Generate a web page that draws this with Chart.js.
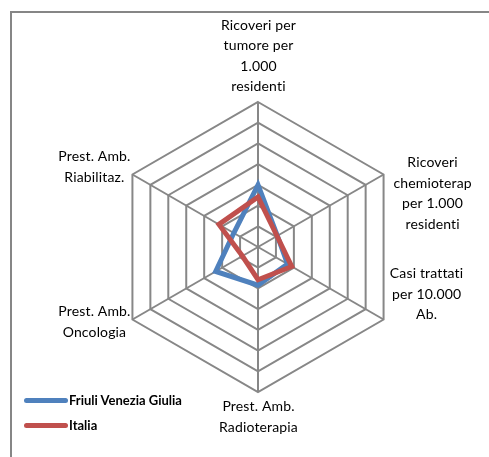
<!DOCTYPE html>
<html>
<head>
<meta charset="utf-8">
<script src="https://cdn.jsdelivr.net/npm/chart.js@4/dist/chart.umd.min.js"></script>
<style>
  html, body { margin: 0; padding: 0; background: #fff; }
  #wrap { position: relative; width: 489px; height: 457px; overflow: hidden; font-family: Lato, "Noto Sans", sans-serif; }
  #frame { position: absolute; left: 10px; top: 11px; width: 600px; height: 600px; border: 2px solid #868686; }
  canvas { position: absolute; left: 0; top: 0; }
  .leg { position: absolute; left: 24px; font-size: 13px; font-weight: bold; color: #000; line-height: 16px; }
  .leg i { display: inline-block; width: 44px; height: 5px; border-radius: 2.5px; vertical-align: middle; margin-right: 1px; position: relative; top: -1px; }
</style>
</head>
<body>
<div id="wrap">
  <div id="frame"></div>
  <canvas id="radar" width="489" height="457"></canvas>
  <div class="leg" style="top:392px;"><i style="background:#4f81bd"></i>Friuli Venezia Giulia</div>
  <div class="leg" style="top:417px;"><i style="background:#c0504d"></i>Italia</div>
</div>
<script>
// axis labels, clockwise from the top
const labels = [
  ['Ricoveri per', 'tumore per', '1.000', 'residenti'],
  ['Ricoveri', 'chemioterap', 'per 1.000', 'residenti'],
  ['Casi trattati', 'per 10.000', 'Ab.'],
  ['Prest. Amb.', 'Radioterapia'],
  ['Prest. Amb.', 'Oncologia'],
  ['Prest. Amb.', 'Riabilitaz.']
];
const friuli = [3.0, 1.08, 1.65, 1.84, 2.36, 1.35];
const italia = [2.42, 1.06, 1.88, 1.58, 0.87, 2.18];

// where each label block sits, relative to the outer vertex of its axis
const labelShift = [[0.5, -46], [49, 19], [43, -25.5], [0.5, 25], [-38, 2.5], [-38, -7.5]];

const axisLabels = {
  id: 'axisLabels',
  afterDraw(chart) {
    const s = chart.scales.r, ctx = chart.ctx;
    ctx.save();
    ctx.font = '14px Lato, "Noto Sans", sans-serif';
    ctx.letterSpacing = '0.15px'; // stops the "ti" ligature
    ctx.fillStyle = '#000';
    ctx.textAlign = 'center';
    ctx.textBaseline = 'middle';
    const lh = 20.5;
    labels.forEach((lines, i) => {
      const p = s.getPointPosition(i, s.drawingArea);
      const cx = p.x + labelShift[i][0];
      const cy = p.y + labelShift[i][1];
      const y0 = cy - (lines.length - 1) * lh / 2;
      lines.forEach((t, k) => ctx.fillText(t, cx, y0 + k * lh));
    });
    ctx.restore();
  }
};

new Chart(document.getElementById('radar'), {
  type: 'radar',
  data: {
    labels: labels.map(l => l.join(' ')),
    datasets: [
      { label: 'Friuli Venezia Giulia', data: friuli, borderColor: '#4f81bd', borderWidth: 5, fill: false, pointRadius: 0, borderJoinStyle: 'miter', order: 1 },
      { label: 'Italia', data: italia, borderColor: '#c0504d', borderWidth: 5, fill: false, pointRadius: 0, borderJoinStyle: 'miter', order: 0 }
    ]
  },
  options: {
    responsive: false,
    animation: false,
    layout: { padding: { left: 113.5, right: 85.5, top: 102, bottom: 65 } },
    plugins: { legend: { display: false }, tooltip: { enabled: false } },
    elements: { line: { tension: 0 } },
    scales: {
      r: {
        min: 0, max: 7,
        ticks: { display: false, stepSize: 1 },
        grid: { color: '#878787', lineWidth: 2 },
        angleLines: { color: '#878787', lineWidth: 2 },
        pointLabels: { display: false }
      }
    }
  },
  plugins: [axisLabels]
});
</script>
</body>
</html>
